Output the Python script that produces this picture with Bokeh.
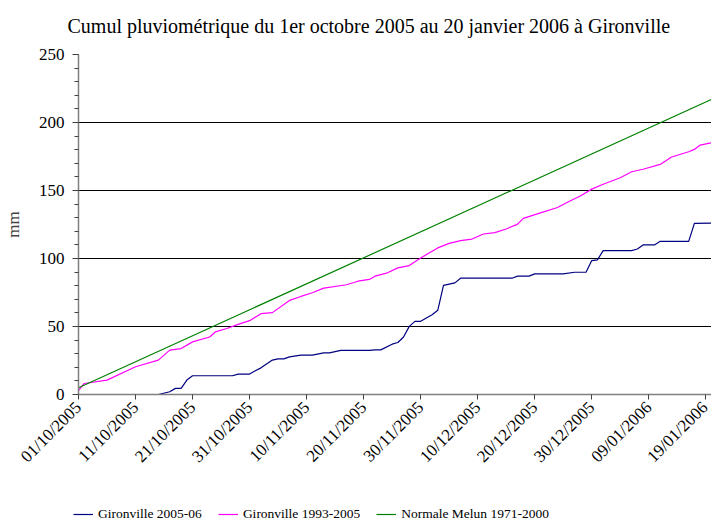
import pandas as pd
from math import pi
from bokeh.plotting import figure
from bokeh.layouts import column
from bokeh.models import Range1d, FixedTicker, SingleIntervalTicker, DatetimeTickFormatter, Legend, LegendItem
from bokeh.embed import file_html
from bokeh.resources import INLINE

title_text = "Cumul pluviométrique du 1er octobre 2005 au 20 janvier 2006 à Gironville"
start_date = "2005-10-01"
end_date = "2006-01-20"

tick_labels = ["01/10/2005", "11/10/2005", "21/10/2005", "31/10/2005", "10/11/2005",
               "20/11/2005", "30/11/2005", "10/12/2005", "20/12/2005", "30/12/2005",
               "09/01/2006", "19/01/2006"]

# Gironville 2005-06 (days since 01/10/2005, cumulative mm)
blue_days = [0, 14, 16, 17, 18, 19, 20, 27, 28, 30, 31, 32, 34, 35, 36, 37, 39, 41, 43, 44,
             46, 51, 52, 53, 55, 56, 57, 58, 59, 60, 62, 63, 64, 66, 67, 76, 77, 79, 80, 85,
             87, 89, 90, 91, 92, 97, 98, 99, 101, 102, 107, 108, 111]
blue_mm = [0, 0, 2, 4.5, 4.5, 10.6, 13.8, 13.8, 15, 15, 17.4, 19.6, 25.3, 26.2, 26.2, 27.7, 28.9, 28.9, 30.6, 30.6,
           32.4, 32.4, 32.8, 32.8, 37, 38.2, 42.3, 50.1, 53.8, 53.8, 58.7, 61.9, 80.2, 82.1, 85.5, 85.5, 87, 87, 88.7, 88.7,
           89.9, 89.9, 98.5, 99, 105.8, 105.8, 107, 110, 110, 112.6, 112.6, 125.8, 126]

# Gironville 1993-2005
mag_days = [0, 1, 5, 10, 14, 16, 18, 20, 23, 24, 26, 28, 30, 32, 34, 37, 39, 41, 43, 47,
            49, 51, 52, 54, 56, 58, 60, 62, 63, 65, 67, 69, 71, 73, 75, 77, 78, 81, 84, 86,
            88, 90, 92, 95, 97, 99, 102, 104, 107, 108, 109, 111]
mag_mm = [2.8, 8.1, 10.6, 20.4, 25.3, 32.6, 33.8, 38.7, 42.3, 46, 48.5, 51.6, 54.3, 59.4, 60.2, 69.2, 72.1, 74.8, 78.2, 80.7,
          83.3, 84.6, 87, 89.2, 93.1, 94.8, 100.4, 105.3, 107.8, 111.1, 113.1, 114.3, 118, 119, 121.7, 125.3, 129.5, 133.5, 137.5, 141.9,
          146, 151, 154.6, 159.4, 163.8, 165.6, 169.2, 174.6, 178.5, 180.2, 183.4, 185.1]

# Normale Melun 1971-2000
green_days = [0, 111]
green_mm = [5.0, 217.0]

series_names = ["Gironville 2005-06", "Gironville 1993-2005", "Normale Melun 1971-2000"]
series_colors = ["#000080", "#FF00FF", "#008000"]
series_data = [(blue_days, blue_mm), (mag_days, mag_mm), (green_days, green_mm)]

t0 = pd.Timestamp(start_date)
def to_dates(days):
    return [t0 + pd.Timedelta(days=d) for d in days]

FONT = "Liberation Serif"

p = figure(width=711, height=482, output_backend="svg", toolbar_location=None,
           x_axis_type="datetime",
           x_range=Range1d(t0, pd.Timestamp(end_date)),
           y_range=Range1d(0, 250),
           min_border_left=77, min_border_right=0, min_border_top=54, min_border_bottom=88)

p.title.text = title_text
p.title.text_font = FONT
p.title.text_font_size = "20px"
p.title.text_font_style = "normal"
p.title.align = "left"
p.title.offset = -11
p.title.text_color = "#000000"
try:
    p.title.padding = dict(left=0, right=0, top=0, bottom=16)
    p.title.vertical_align = "bottom"
    p.title.standoff = 4
except Exception:
    p.title.vertical_align = "top"
    p.title.standoff = 18

for (days, mm), color in zip(series_data, series_colors):
    p.line(to_dates(days), mm, line_color=color, line_width=1.2)

p.outline_line_color = None
p.background_fill_color = "white"
p.border_fill_color = "white"

p.xgrid.grid_line_color = None
p.ygrid.grid_line_color = "#000000"
p.ygrid.grid_line_width = 1

tick_dates = [pd.to_datetime(t, format="%d/%m/%Y") for t in tick_labels]
p.xaxis.ticker = FixedTicker(ticks=[d.timestamp() * 1000 for d in tick_dates])
fmt = "%d/%m/%Y"
p.xaxis.formatter = DatetimeTickFormatter(days=fmt, months=fmt, years=fmt, hours=fmt)
p.xaxis.major_label_orientation = pi / 4
p.xaxis.minor_tick_line_color = None
p.xaxis.major_tick_out = 5
p.xaxis.major_tick_in = 0

p.yaxis.ticker = SingleIntervalTicker(interval=50, num_minor_ticks=5)
p.yaxis.axis_label = "mm"
p.yaxis.axis_label_standoff = 13
p.yaxis.major_label_standoff = 8
p.yaxis.major_tick_out = 6
p.yaxis.major_tick_in = 0
p.yaxis.minor_tick_out = 4
p.yaxis.minor_tick_in = 0

for ax in [p.xaxis[0], p.yaxis[0]]:
    ax.axis_line_color = "#808080"
    ax.axis_line_width = 1.5
    ax.major_tick_line_color = "#404040"
    ax.major_label_text_font = FONT
    ax.major_label_text_font_size = "17px"
    ax.major_label_text_color = "#000000"
    ax.axis_label_text_font = FONT
    ax.axis_label_text_font_size = "17px"
    ax.axis_label_text_font_style = "normal"
p.yaxis.minor_tick_line_color = "#404040"

# Legend strip below the chart (its own series copies stay outside its visible range)
q = figure(width=711, height=40, output_backend="svg", toolbar_location=None,
           x_axis_type="datetime",
           x_range=Range1d(t0, pd.Timestamp(end_date)), y_range=Range1d(1000, 1001),
           x_axis_location=None, y_axis_location=None,
           min_border=0, min_border_left=0, min_border_right=0, min_border_top=0, min_border_bottom=0)
q.frame_align = False
q.outline_line_color = None
q.xgrid.grid_line_color = None
q.ygrid.grid_line_color = None
legend_renderers = [q.line(to_dates(days), mm, line_color=c, line_width=1.2)
                    for (days, mm), c in zip(series_data, series_colors)]

legend = Legend(items=[LegendItem(label=n, renderers=[r]) for n, r in zip(series_names, legend_renderers)],
                orientation="horizontal", location=(73, 0))
legend.label_text_font = FONT
legend.label_text_font_size = "13.5px"
legend.label_text_color = "#000000"
legend.border_line_color = None
legend.background_fill_alpha = 0
legend.glyph_width = 20
legend.glyph_height = 4
legend.label_height = 4
legend.label_standoff = 5
legend.spacing = 16
legend.padding = 0
legend.margin = 0
q.add_layout(legend, "center")

layout = column(p, q, spacing=0)
open("out.html", "w").write(file_html(layout, INLINE))
